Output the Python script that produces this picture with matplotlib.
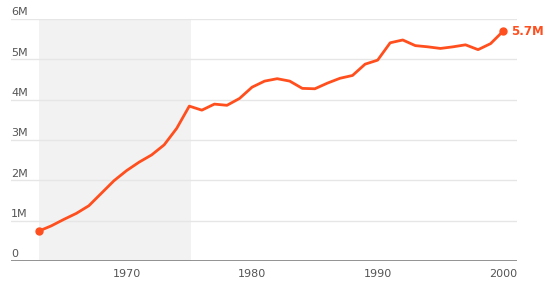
import matplotlib.pyplot as plt
import matplotlib.transforms as mtransforms

# data (millions)
years = list(range(1963, 2001))
values = [0.74, 0.87, 1.03, 1.18, 1.37, 1.68, 1.99, 2.24, 2.45, 2.63,
          2.88, 3.29, 3.84, 3.74, 3.89, 3.86, 4.03, 4.31, 4.46, 4.52,
          4.46, 4.28, 4.27, 4.41, 4.53, 4.60, 4.88, 4.98, 5.41, 5.48,
          5.34, 5.31, 5.27, 5.31, 5.36, 5.24, 5.39, 5.70]
y_ticks = [0, 1, 2, 3, 4, 5, 6]
y_labels = ['0', '1M', '2M', '3M', '4M', '5M', '6M']
x_ticks = [1970, 1980, 1990, 2000]
shade_start, shade_end = 1963, 1975.1
end_label = '5.7M'

orange = '#ff4f1e'

fig = plt.figure(figsize=(5.51, 2.85), dpi=100)
ax = fig.add_axes([11 / 551, 24 / 285, 506 / 551, 242 / 285])
ax.set_xlim(1960.8, 2001.1)
ax.set_ylim(0, 6)

ax.axvspan(shade_start, shade_end, color='#f2f2f2', zorder=0, lw=0)

for v in y_ticks[1:]:
    ax.axhline(v, color='#e6e6e6', lw=1, zorder=1)
ax.axhline(0, color='#808080', lw=1.2, zorder=3)

trans = mtransforms.blended_transform_factory(ax.transAxes, ax.transData)
for v, lab in zip(y_ticks, y_labels):
    ax.text(0.0, v + 0.04, lab, transform=trans, ha='left', va='bottom',
            fontsize=8, color='#555555')

ax.plot(years, values, color=orange, lw=2, zorder=4, solid_joinstyle='round')
ax.plot([years[0], years[-1]], [values[0], values[-1]], 'o', color=orange,
        ms=5, zorder=5)
ax.annotate(end_label, (years[-1], values[-1]), xytext=(6, 0),
            textcoords='offset points', ha='left', va='center',
            fontsize=8.5, fontweight='bold', color=orange)

ax.set_xticks(x_ticks)
ax.set_xticklabels([str(x) for x in x_ticks], fontsize=8, color='#555555')
ax.tick_params(axis='x', length=0, pad=6)
ax.set_yticks([])
for s in ax.spines.values():
    s.set_visible(False)

fig.savefig('out.png', dpi=100)
